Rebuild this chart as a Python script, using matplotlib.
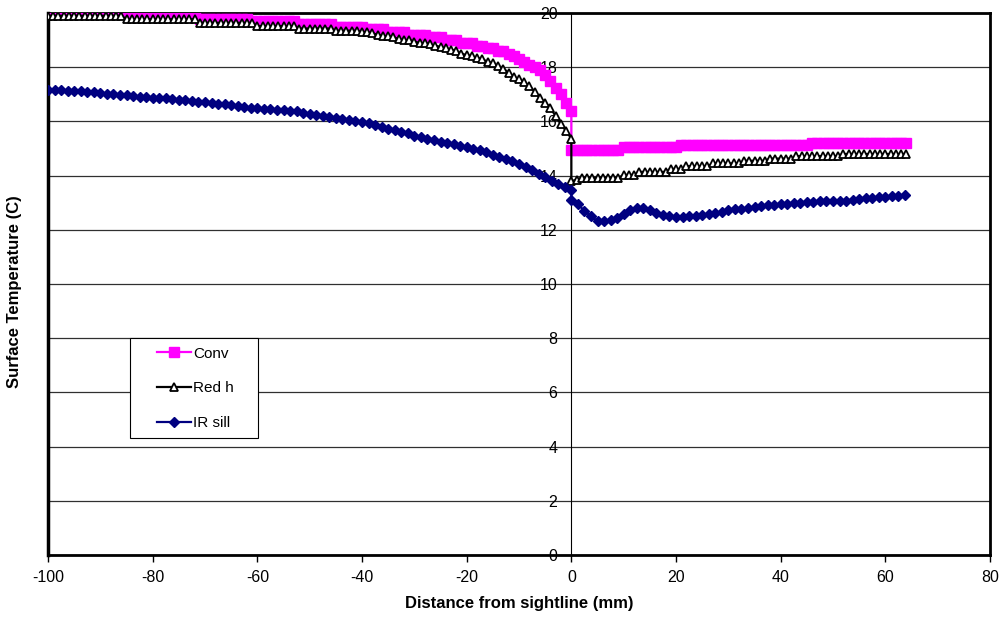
# surface temperature along sightline: Conv / Red h / IR sill

#%%
import numpy as np
import matplotlib.pyplot as plt
from matplotlib.legend_handler import HandlerLine2D

plt.rcParams['font.family'] = ['Liberation Sans', 'DejaVu Sans']
plt.rcParams['axes.unicode_minus'] = False

# x grid (mm): 1 mm sampling for the two model runs, 1.25 mm for the IR data
x_left = np.arange(-100, 1)
x_right = np.arange(0, 65)
x_ir_left = np.arange(-100, 0.01, 1.25)
x_ir_right = np.arange(0, 64, 1.25)

conv_left = [
    20.0, 20.0, 20.0, 20.0, 20.0, 20.0, 20.0, 20.0, 20.0, 20.0,
    20.0, 20.0, 20.0, 20.0, 20.0, 20.0, 20.0, 19.9, 19.9, 19.9,
    19.9, 19.9, 19.9, 19.9, 19.9, 19.9, 19.9, 19.9, 19.9, 19.8,
    19.8, 19.8, 19.8, 19.8, 19.8, 19.8, 19.8, 19.8, 19.8, 19.7,
    19.7, 19.7, 19.7, 19.7, 19.7, 19.7, 19.7, 19.7, 19.6, 19.6,
    19.6, 19.6, 19.6, 19.6, 19.6, 19.5, 19.5, 19.5, 19.5, 19.5,
    19.5, 19.4, 19.4, 19.4, 19.4, 19.3, 19.3, 19.3, 19.3, 19.2,
    19.2, 19.2, 19.2, 19.1, 19.1, 19.1, 19.0, 19.0, 19.0, 18.9,
    18.9, 18.9, 18.8, 18.8, 18.7, 18.7, 18.6, 18.6, 18.5, 18.4,
    18.3, 18.2, 18.1, 18.0, 17.9, 17.7, 17.5, 17.25, 17.0, 16.7,
    16.4,
]
conv_right = [
    14.93, 14.93, 14.93, 14.93, 14.93, 14.93, 14.93, 14.93, 14.93, 14.93,
    15.05, 15.05, 15.05, 15.05, 15.05, 15.05, 15.05, 15.05, 15.05, 15.05,
    15.05, 15.14, 15.14, 15.14, 15.14, 15.14, 15.14, 15.14, 15.14, 15.14,
    15.14, 15.14, 15.14, 15.14, 15.14, 15.14, 15.14, 15.14, 15.14, 15.14,
    15.14, 15.14, 15.14, 15.14, 15.14, 15.14, 15.21, 15.21, 15.21, 15.21,
    15.21, 15.21, 15.21, 15.21, 15.21, 15.21, 15.21, 15.21, 15.21, 15.21,
    15.21, 15.21, 15.21, 15.21, 15.21,
]

redh_left = [
    19.9, 19.9, 19.9, 19.9, 19.9, 19.9, 19.9, 19.9, 19.9, 19.9,
    19.9, 19.9, 19.9, 19.9, 19.9, 19.77, 19.77, 19.77, 19.77, 19.77,
    19.77, 19.77, 19.77, 19.77, 19.77, 19.77, 19.77, 19.77, 19.77, 19.64,
    19.64, 19.64, 19.64, 19.64, 19.64, 19.64, 19.64, 19.64, 19.64, 19.64,
    19.52, 19.52, 19.52, 19.52, 19.52, 19.52, 19.52, 19.52, 19.43, 19.43,
    19.43, 19.43, 19.43, 19.43, 19.43, 19.35, 19.35, 19.35, 19.35, 19.35,
    19.3, 19.3, 19.25, 19.2, 19.15, 19.15, 19.1, 19.05, 19.0, 19.0,
    18.95, 18.9, 18.9, 18.85, 18.8, 18.75, 18.7, 18.65, 18.6, 18.5,
    18.45, 18.4, 18.35, 18.3, 18.2, 18.15, 18.05, 17.95, 17.8, 17.65,
    17.55, 17.45, 17.3, 17.1, 16.85, 16.7, 16.5, 16.2, 15.9, 15.65,
    15.37,
]
redh_right = [
    13.8, 13.85, 13.92, 13.92, 13.92, 13.92, 13.92, 13.92, 13.92, 13.92,
    14.03, 14.03, 14.03, 14.14, 14.14, 14.14, 14.14, 14.14, 14.14, 14.25,
    14.25, 14.25, 14.35, 14.35, 14.35, 14.35, 14.35, 14.45, 14.45, 14.45,
    14.45, 14.45, 14.45, 14.55, 14.55, 14.55, 14.55, 14.55, 14.63, 14.63,
    14.63, 14.63, 14.63, 14.72, 14.72, 14.72, 14.72, 14.72, 14.72, 14.72,
    14.72, 14.72, 14.8, 14.8, 14.8, 14.8, 14.8, 14.8, 14.8, 14.8,
    14.8, 14.8, 14.8, 14.8, 14.8,
]

ir_left = [
    17.18, 17.17, 17.15, 17.14, 17.12, 17.11, 17.09, 17.07, 17.05, 17.03,
    17.01, 16.99, 16.96, 16.94, 16.92, 16.9, 16.88, 16.86, 16.85, 16.83,
    16.8, 16.78, 16.76, 16.73, 16.71, 16.68, 16.66, 16.63, 16.6, 16.57,
    16.54, 16.51, 16.48, 16.46, 16.45, 16.44, 16.42, 16.4, 16.37, 16.33,
    16.29, 16.25, 16.21, 16.17, 16.13, 16.1, 16.07, 16.03, 15.98, 15.93,
    15.87, 15.8, 15.74, 15.68, 15.62, 15.56, 15.48, 15.42, 15.37, 15.32,
    15.26, 15.21, 15.16, 15.11, 15.05, 14.99, 14.93, 14.86, 14.78, 14.7,
    14.62, 14.53, 14.44, 14.33, 14.2, 14.08, 13.95, 13.8, 13.68, 13.57,
    13.47,
]
ir_right = [
    13.12, 12.95, 12.7, 12.5, 12.33, 12.32, 12.36, 12.45, 12.6, 12.72,
    12.8, 12.8, 12.74, 12.64, 12.55, 12.5, 12.48, 12.48, 12.5, 12.52,
    12.55, 12.6, 12.64, 12.67, 12.72, 12.76, 12.78, 12.8, 12.84, 12.87,
    12.9, 12.93, 12.95, 12.97, 12.99, 13.0, 13.02, 13.04, 13.05, 13.06,
    13.06, 13.05, 13.08, 13.12, 13.15, 13.17, 13.19, 13.2, 13.22, 13.24,
    13.25, 13.28,
]

#%% plot
fig = plt.figure(figsize=(10, 6.23), dpi=100)
ax = fig.add_axes([0.048, 0.109, 0.942, 0.870])

x_mod = np.concatenate([x_left, x_right])
x_ir = np.concatenate([x_ir_left, x_ir_right])

ax.plot(x_mod, conv_left + conv_right, color='#FF00FF', lw=1.6,
        marker='s', ms=7, mec='#FF00FF', label='Conv', zorder=3)
ax.plot(x_mod, redh_left + redh_right, color='black', lw=1.6,
        marker='^', ms=5.8, mfc='white', mec='black', mew=1.3,
        label='Red h', zorder=4)
ax.plot(x_ir, ir_left + ir_right, color='#000080', lw=1.6,
        marker='D', ms=5, mec='#000080', label='IR sill', zorder=5)

ax.set_xlim(-100, 80)
ax.set_ylim(0, 20)
ax.set_xticks(range(-100, 81, 20))
ax.set_yticks(range(0, 21, 2))
ax.grid(axis='y', color='#303030', lw=0.9)
ax.set_axisbelow(True)

# y axis sits at x = 0, thick frame around the plot
ax.spines['left'].set_position(('data', 0))
ax.spines['left'].set_linewidth(0.8)
for side in ('top', 'right', 'bottom'):
    ax.spines[side].set_linewidth(2)
ax.axvline(-100, color='black', lw=2.5, clip_on=False, zorder=2.5)

ax.tick_params(axis='y', length=0, pad=10, labelsize=11.5)
ax.tick_params(axis='x', length=5, width=1, pad=6, labelsize=11.5)

ax.set_xlabel('Distance from sightline (mm)', fontsize=12, fontweight='bold',
              labelpad=8)
ax.text(-0.036, 0.487, 'Surface Temperature (C)', transform=ax.transAxes,
        rotation=90, ha='center', va='center', fontsize=12, fontweight='bold')

# legend box: fixed width, handles pushed in from the left edge
hl = HandlerLine2D(xpad=1.25)
handles, labels = ax.get_legend_handles_labels()
leg = ax.legend(handles, labels, loc='upper left',
                bbox_to_anchor=(0.087, 0.30, 0.136, 0.10), mode='expand',
                borderaxespad=0, fancybox=False, framealpha=1,
                edgecolor='black', fontsize=11, handlelength=3.45,
                labelspacing=1.35, borderpad=0.55, handletextpad=0.15,
                handler_map={h: hl for h in handles})
leg.get_frame().set_linewidth(0.8)

# %%
fig.savefig('out.png', dpi=100)
